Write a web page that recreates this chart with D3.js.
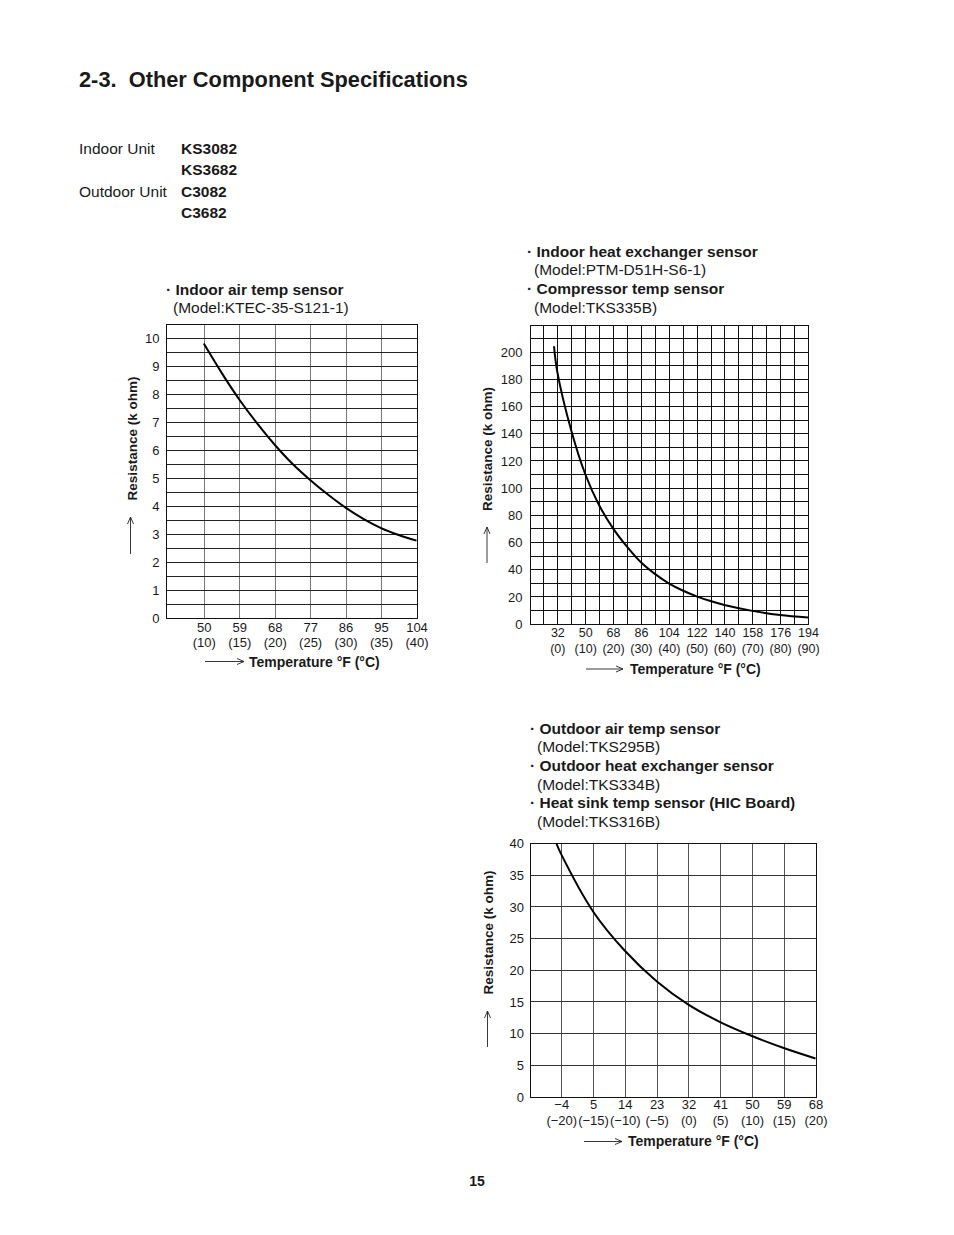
<!DOCTYPE html>
<html><head><meta charset="utf-8">
<script src="https://cdn.jsdelivr.net/npm/d3@7"></script>
<style>
body{margin:0;background:#fff}
svg{display:block}
text{font-family:"Liberation Sans",Arial,Helvetica,sans-serif;fill:#1a1a1a}
</style>
</head><body><script>
// ---------- DATA ----------
// Chart 1: Indoor air temp sensor (KTEC-35-S121-1)
const indoorAirTempC = [10, 12.5, 15, 17.5, 20, 22.5, 25, 27.5, 30, 32.5, 35, 37.5, 40];
const indoorAirRes   = [9.8, 8.76, 7.8, 6.95, 6.18, 5.5, 4.92, 4.4, 3.93, 3.53, 3.2, 2.95, 2.75];
const indoorAirTickC = [10, 15, 20, 25, 30, 35, 40];
const indoorAirTickF = ["50", "59", "68", "77", "86", "95", "104"];
const indoorAirTickCLabel = ["(10)", "(15)", "(20)", "(25)", "(30)", "(35)", "(40)"];
const indoorAirYTicks = [0, 1, 2, 3, 4, 5, 6, 7, 8, 9, 10];

// Chart 2: Indoor heat exchanger / Compressor temp sensor
const hexTempC = [-1.2, 0, 5, 10, 15, 20, 25, 30, 35, 40, 45, 50, 55, 60, 70, 80, 90];
const hexRes   = [204, 185, 142, 110, 87, 70, 56.5, 45, 36.5, 29.6, 24.3, 20, 16.5, 13.6, 9.3, 6.2, 4.4];
const hexTickC = [0, 10, 20, 30, 40, 50, 60, 70, 80, 90];
const hexTickF = ["32", "50", "68", "86", "104", "122", "140", "158", "176", "194"];
const hexTickCLabel = ["(0)", "(10)", "(20)", "(30)", "(40)", "(50)", "(60)", "(70)", "(80)", "(90)"];
const hexYTicks = [0, 20, 40, 60, 80, 100, 120, 140, 160, 180, 200];

// Chart 3: Outdoor air / Outdoor heat exchanger / Heat sink sensor
const outTempC = [-20.8, -20, -15, -10, -5, 0, 5, 10, 15, 20];
const outRes   = [40, 38.2, 29.2, 23.0, 18.2, 14.5, 11.75, 9.55, 7.65, 6.0];
const outTickC = [-20, -15, -10, -5, 0, 5, 10, 15, 20];
const outTickF = ["\u22124", "5", "14", "23", "32", "41", "50", "59", "68"];
const outTickCLabel = ["(\u221220)", "(\u221215)", "(\u221210)", "(\u22125)", "(0)", "(5)", "(10)", "(15)", "(20)"];
const outYTicks = [0, 5, 10, 15, 20, 25, 30, 35, 40];

// Texts
const pageTitle = "2-3.  Other Component Specifications";
const unitLabels = ["Indoor Unit", "", "Outdoor Unit", ""];
const unitModels = ["KS3082", "KS3682", "C3082", "C3682"];
const chart1Notes = [["· Indoor air temp sensor", true], ["(Model:KTEC-35-S121-1)", false]];
const chart2Notes = [["· Indoor heat exchanger sensor", true], ["(Model:PTM-D51H-S6-1)", false],
                     ["· Compressor temp sensor", true], ["(Model:TKS335B)", false]];
const chart3Notes = [["· Outdoor air temp sensor", true], ["(Model:TKS295B)", false],
                     ["· Outdoor heat exchanger sensor", true], ["(Model:TKS334B)", false],
                     ["· Heat sink temp sensor (HIC Board)", true], ["(Model:TKS316B)", false]];
const yTitle = "Resistance (k ohm)";
const xTitle = "Temperature °F (°C)";

// ---------- DRAW ----------
const svg = d3.select("body").append("svg").attr("width", 954).attr("height", 1235);

svg.append("text").attr("x", 79).attr("y", 86.5).attr("font-size", 21.8).attr("font-weight", "bold")
  .style("white-space", "pre").text(pageTitle);

unitLabels.forEach((t, i) => {
  const by = 153.5 + i * 21.5;
  if (t) svg.append("text").attr("x", 79).attr("y", by).attr("font-size", 15.5).text(t);
  svg.append("text").attr("x", 181).attr("y", by).attr("font-size", 15.5).attr("font-weight", "bold").text(unitModels[i]);
});

svg.append("text").attr("x", 477).attr("y", 1186).attr("font-size", 14).attr("font-weight", "bold")
  .attr("text-anchor", "middle").text("15");

const crisp = v => Math.round(v) + 0.5;

function drawChart(c) {
  const x = d3.scaleLinear().domain(c.xDomain).range(c.xRange);
  const y = d3.scaleLinear().domain(c.yDomain).range(c.yRange);
  const g = svg.append("g");

  // notes
  c.notes.forEach((n, i) => {
    g.append("text").attr("x", n[1] ? c.noteX : c.noteX + 7).attr("y", c.noteY + i * c.noteStep)
      .attr("font-size", 15.5).attr("font-weight", n[1] ? "bold" : "normal").text(n[0]);
  });

  // grid
  const grid = g.append("g").attr("stroke-width", 1).attr("shape-rendering", "crispEdges");
  const xs = d3.range(c.xDomain[0] + c.xGridOffset, c.xDomain[1] + 1e-6, c.xGridStep);
  const ys = d3.range(c.yDomain[0], c.yDomain[1] + 1e-6, c.yGridStep);
  grid.selectAll("line.v").data(xs).join("line").attr("stroke", c.vGridColor)
    .attr("x1", d => crisp(x(d))).attr("x2", d => crisp(x(d)))
    .attr("y1", c.yRange[1]).attr("y2", c.yRange[0]);
  grid.selectAll("line.h").data(ys).join("line").attr("stroke", c.hGridColor)
    .attr("y1", d => crisp(y(d))).attr("y2", d => crisp(y(d)))
    .attr("x1", c.xRange[0]).attr("x2", c.xRange[1]);
  g.append("rect").attr("x", crisp(c.xRange[0])).attr("y", crisp(c.yRange[1]))
    .attr("width", Math.round(c.xRange[1]) - Math.round(c.xRange[0]))
    .attr("height", Math.round(c.yRange[0]) - Math.round(c.yRange[1]))
    .attr("fill", "none").attr("stroke", "#111").attr("shape-rendering", "crispEdges");

  // curve
  const pts = c.tempC.map((t, i) => [t, c.res[i]]);
  g.append("path").datum(pts)
    .attr("d", d3.line().x(d => x(d[0])).y(d => y(d[1])).curve(d3.curveCatmullRom.alpha(0.5)))
    .attr("fill", "none").attr("stroke", "#000").attr("stroke-width", 2);

  // y axis
  const ya = g.append("g").attr("transform", `translate(${c.xRange[0]},0)`)
    .call(d3.axisLeft(y).tickValues(c.yTicks).tickSize(0).tickPadding(c.yPad));
  ya.select(".domain").remove();
  ya.selectAll("text").attr("font-size", 13).attr("font-family", null).attr("fill", "#1a1a1a").attr("dy", "0.36em");

  // x axes (°F row and °C row)
  const xa1 = g.append("g").attr("transform", `translate(0,${c.fBase})`)
    .call(d3.axisBottom(x).tickValues(c.tickC).tickSize(0).tickFormat((d, i) => c.tickF[i]));
  xa1.select(".domain").remove();
  xa1.selectAll("text").attr("y", 0).attr("dy", null).attr("font-size", c.xFont).attr("font-family", null).attr("fill", "#1a1a1a");
  const xa2 = g.append("g").attr("transform", `translate(0,${c.cBase})`)
    .call(d3.axisBottom(x).tickValues(c.tickC).tickSize(0).tickFormat((d, i) => c.tickCLabel[i]));
  xa2.select(".domain").remove();
  xa2.selectAll("text").attr("y", 0).attr("dy", null).attr("font-size", c.xFont).attr("font-family", null).attr("fill", "#1a1a1a");

  // y title + arrow
  g.append("text").attr("transform", `translate(${c.yTitleX},${c.yTitleY}) rotate(-90)`)
    .attr("text-anchor", "middle").attr("font-size", 13.5).attr("font-weight", "bold").text(yTitle);
  const ax = c.yArrowX, at = c.yArrowTop, ab = c.yArrowBottom;
  g.append("path").attr("d", `M${ax},${ab}L${ax},${at}M${ax - 3},${at + 7}L${ax},${at}L${ax + 3},${at + 7}`)
    .attr("fill", "none").attr("stroke", "#222").attr("stroke-width", 0.9);

  // x title + arrow
  const hy = c.xArrowY, hl = c.xArrowLeft, hr = c.xArrowRight;
  g.append("path").attr("d", `M${hl},${hy}L${hr},${hy}M${hr - 7},${hy - 3}L${hr},${hy}L${hr - 7},${hy + 3}`)
    .attr("fill", "none").attr("stroke", "#222").attr("stroke-width", 0.9);
  g.append("text").attr("x", c.xTitleX).attr("y", c.xTitleY).attr("font-size", 14).attr("font-weight", "bold").text(xTitle);
}

drawChart({
  xDomain: [4.6, 40], xRange: [165.5, 416.5], yDomain: [0, 10.5], yRange: [617.5, 324],
  xGridStep: 5, xGridOffset: 5.4, yGridStep: 0.5, hGridColor: "#222", vGridColor: "#777",
  tempC: indoorAirTempC, res: indoorAirRes, yTicks: indoorAirYTicks, yPad: 6,
  tickC: indoorAirTickC, tickF: indoorAirTickF, tickCLabel: indoorAirTickCLabel,
  fBase: 631.5, cBase: 646.5, xFont: 13,
  notes: chart1Notes, noteX: 166, noteY: 294.5, noteStep: 18,
  yTitleX: 136.5, yTitleY: 438.5, yArrowX: 130.5, yArrowTop: 517, yArrowBottom: 554,
  xArrowY: 661.5, xArrowLeft: 205, xArrowRight: 244, xTitleX: 249, xTitleY: 667
});

drawChart({
  xDomain: [-10, 90], xRange: [529.5, 808], yDomain: [0, 220], yRange: [623.5, 324.5],
  xGridStep: 5, xGridOffset: 0, yGridStep: 10, hGridColor: "#111", vGridColor: "#111",
  tempC: hexTempC, res: hexRes, yTicks: hexYTicks, yPad: 7,
  tickC: hexTickC, tickF: hexTickF, tickCLabel: hexTickCLabel,
  fBase: 637, cBase: 653, xFont: 12.5,
  notes: chart2Notes, noteX: 527, noteY: 256.5, noteStep: 18.7,
  yTitleX: 492, yTitleY: 449, yArrowX: 487, yArrowTop: 527, yArrowBottom: 563,
  xArrowY: 669, xArrowLeft: 586, xArrowRight: 623, xTitleX: 630, xTitleY: 673.5
});

drawChart({
  xDomain: [-25, 20], xRange: [529.5, 815.5], yDomain: [0, 40], yRange: [1096.5, 843],
  xGridStep: 5, xGridOffset: 0, yGridStep: 5, hGridColor: "#333", vGridColor: "#555",
  tempC: outTempC, res: outRes, yTicks: outYTicks, yPad: 5.5,
  tickC: outTickC, tickF: outTickF, tickCLabel: outTickCLabel,
  fBase: 1108.5, cBase: 1125, xFont: 13,
  notes: chart3Notes, noteX: 530, noteY: 733.5, noteStep: 18.7,
  yTitleX: 493, yTitleY: 932.5, yArrowX: 487.5, yArrowTop: 1011, yArrowBottom: 1047,
  xArrowY: 1141.5, xArrowLeft: 584, xArrowRight: 622, xTitleX: 628, xTitleY: 1146
});
</script></body></html>
